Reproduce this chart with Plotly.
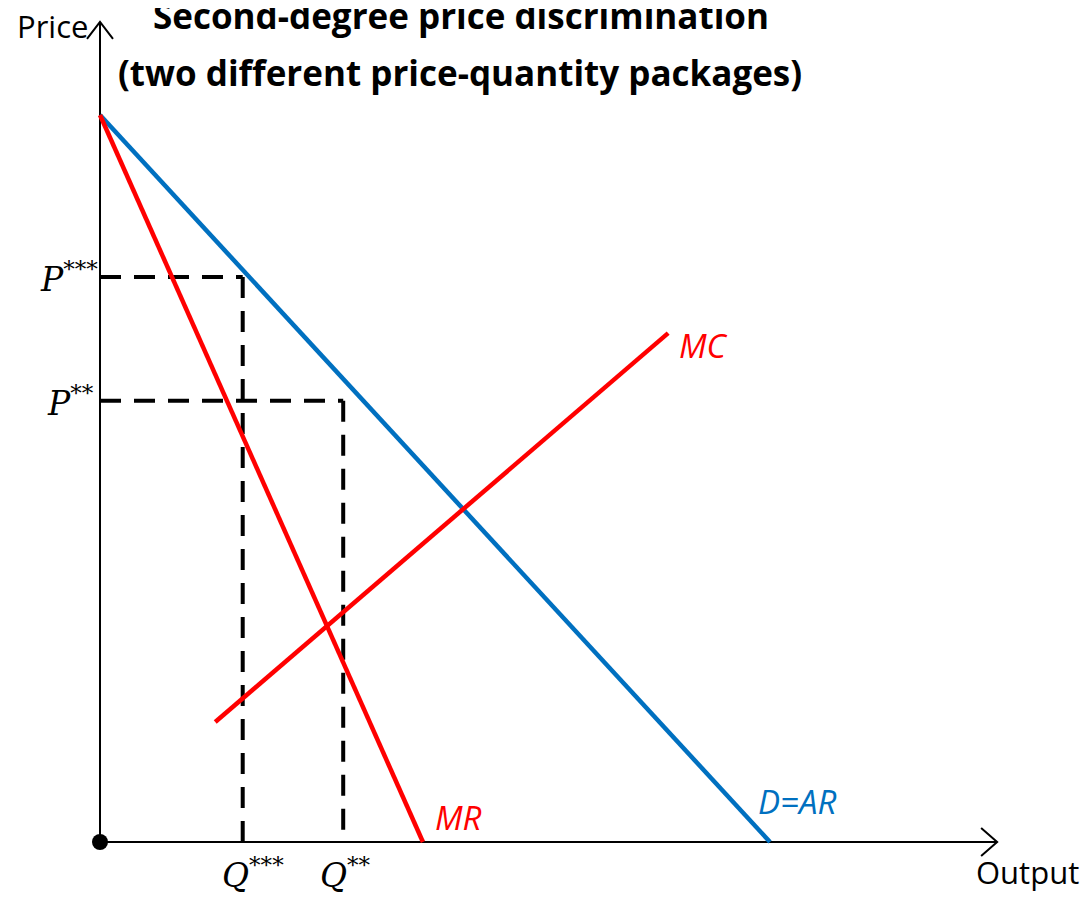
import plotly.graph_objects as go

# Economic diagram values (nominal units)
demand_q = [0, 10.0]
demand_p = [10.0, 0]
mr_q = [0, 4.82]
mr_p = [10.0, 0]
mc_q = [1.72, 8.48]
mc_p = [1.65, 7.0]
q3, p3 = 2.13, 7.77   # Q***, P***
q2, p2 = 3.63, 6.07   # Q**, P**
y_axis_top = 11.28
x_axis_end = 13.39

BLUE = "#0070C0"
RED = "#FF0000"
W, H = 1090, 902
OFF = 8       # page body margin
px_x = 67.0   # pixels per unit
px_y = 72.7
x0px, y0px = 100, 842

fig = go.Figure()

def line(xs, ys, color, width, dash=None):
    fig.add_trace(go.Scatter(x=xs, y=ys, mode="lines",
                             line=dict(color=color, width=width, dash=dash),
                             hoverinfo="skip", showlegend=False))

# axes
line([0, 0], [0, y_axis_top], "black", 2)
line([0, x_axis_end], [0, 0], "black", 2)
# arrow heads (open V)
ax_dx = 13 / px_x
ax_dy = 17 / px_y
line([-ax_dx, 0, ax_dx], [y_axis_top - ax_dy, y_axis_top, y_axis_top - ax_dy], "black", 2)
bx = 16 / px_x
by = 14 / px_y
line([x_axis_end - bx, x_axis_end, x_axis_end - bx], [by, 0, -by], "black", 2)

# dashed guides
dash = "21px,13px"
line([0, q3], [p3, p3], "black", 4, dash)
line([q3, q3], [p3, 0], "black", 4, dash)
line([0, q2], [p2, p2], "black", 4, dash)
line([q2, q2], [p2, 0], "black", 4, dash)

# curves
line(demand_q, demand_p, BLUE, 4.5)
line(mr_q, mr_p, RED, 4.5)
line(mc_q, mc_p, RED, 4.5)

# origin dot
fig.add_trace(go.Scatter(x=[0], y=[0], mode="markers",
                         marker=dict(color="black", size=16),
                         hoverinfo="skip", showlegend=False))

def tx(px):
    return (px - x0px) / px_x

def ty(py):
    return (y0px - py) / px_y

sans = "Open Sans, Liberation Sans, sans-serif"
serif = "DejaVu Serif, Liberation Serif, serif"

def ann(text, x, y, size, color="black", family=sans, xanchor="center"):
    fig.add_annotation(x=x, y=y, text=text, showarrow=False,
                       font=dict(size=size, color=color, family=family),
                       xanchor=xanchor, yanchor="middle")

ann("<b>Second-degree price discrimination</b>", tx(461), ty(15), 35)
ann("<b>(two different price-quantity packages)</b>", tx(460), ty(72), 35)
ann("Price", tx(52), ty(26), 31)
ann("Output", tx(1027), ty(872), 31)
ann("<i>MC</i>", tx(703), ty(345), 33, RED)
ann("<i>MR</i>", tx(458), ty(817), 33, RED)
ann("<i>D=AR</i>", tx(797), ty(801), 33, BLUE)
ann("<i>P</i><sup>***</sup>", tx(69), ty(277), 33, family=serif)
ann("<i>P</i><sup>**</sup>", tx(70), ty(401), 33, family=serif)
ann("<i>Q</i><sup>***</sup>", tx(253), ty(873), 33, family=serif)
ann("<i>Q</i><sup>**</sup>", tx(345), ty(873), 33, family=serif)

fig.update_layout(
    width=W, height=H,
    margin=dict(l=0, r=0, t=0, b=0),
    paper_bgcolor="white", plot_bgcolor="white",
    xaxis=dict(range=[tx(OFF), tx(W + OFF)], visible=False, fixedrange=True),
    yaxis=dict(range=[ty(H + OFF), ty(OFF)], visible=False, fixedrange=True),
)

fig.write_html("out.html")
